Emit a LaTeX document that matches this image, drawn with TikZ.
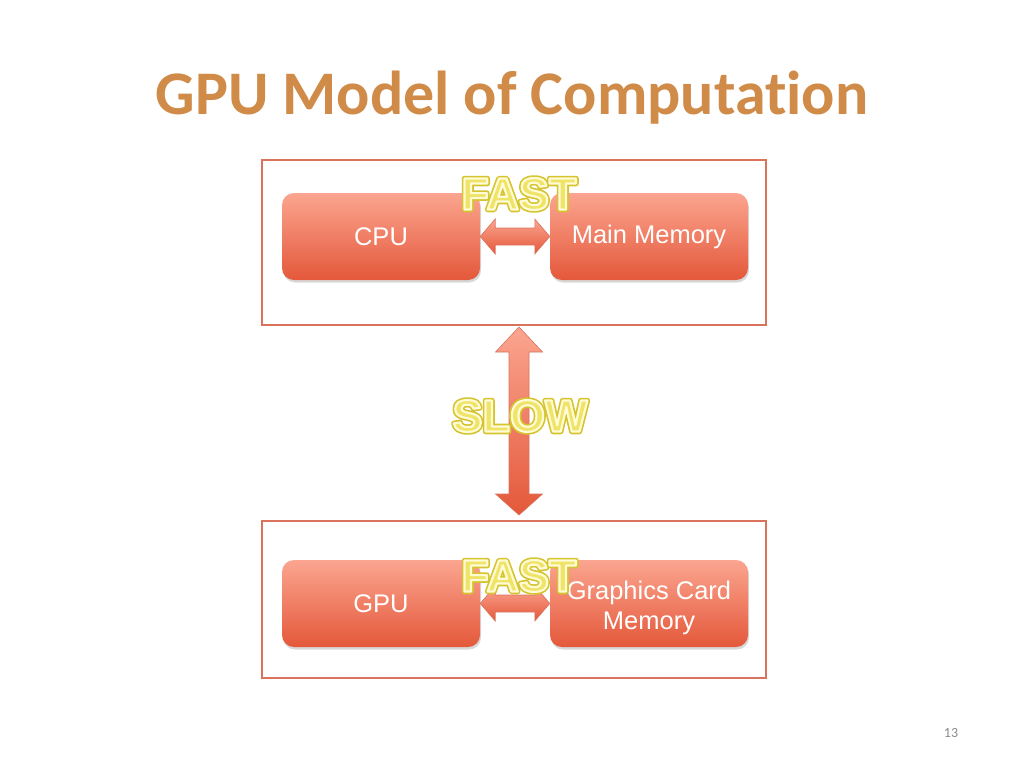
\documentclass[tikz,border=0pt]{standalone}
\usepackage{fontspec}
\setmainfont{Liberation Sans}
\newfontfamily\calib[Ligatures=NoCommon]{Carlito}
\usetikzlibrary{shadows,calc}
\definecolor{titlec}{HTML}{D08B48}
\definecolor{framec}{HTML}{D9735C}
\definecolor{boxtop}{HTML}{FBA590}
\definecolor{boxbot}{HTML}{E4583A}
\definecolor{glowout}{HTML}{D6C330}
\definecolor{glowcore}{HTML}{F0E468}
\definecolor{pagenum}{HTML}{8C8C8C}
\tikzset{
  frame/.style={draw=framec, line width=2pt},
  unit/.style={rounded corners=12pt, minimum width=198pt, minimum height=87pt,
    top color=boxtop, bottom color=boxbot, draw=none, text=white,
    font=\fontsize{25.5}{30}\selectfont, align=center,
    drop shadow={shadow xshift=1pt, shadow yshift=-2.5pt, opacity=0.3}},
  unittext/.style={yshift=-2pt},
  arr/.style={top color=boxtop, bottom color=boxbot, draw=framec, line width=0.6pt},
  glowtxt/.style={font=\fontsize{45}{45}\selectfont\bfseries, inner sep=0pt},
}
% outer layer: fill + thick dark stroke; top layer: core fill + light stroke
\newcommand{\outerglow}[1]{\special{pdf:code 2 Tr 5.5 w 1 J 1 j 0.84 0.765 0.19 RG}#1\special{pdf:code 0 Tr}}
\newcommand{\innerglow}[1]{\special{pdf:code 2 Tr 2.2 w 1 j 1 0.985 0.83 RG}#1\special{pdf:code 0 Tr}}
\newcommand{\glowlabel}[3]{%
  \node[glowtxt,text=glowout] at (#1) {\outerglow{#2}};
  \node[glowtxt,text=glowcore] (#3) at (#1) {\innerglow{#2}};
}
\begin{document}
\begin{tikzpicture}[x=1pt,y=-1pt]
\useasboundingbox[fill=white] (0,0) rectangle (1024,768);
% title
\node[font=\calib\bfseries\fontsize{62}{70}\selectfont, text=titlec] (title) at (512,98) {GPU Model of Computation};
% frames
\draw[frame] (262,160) rectangle (766,325);
\draw[frame] (262,521) rectangle (766,678);
\coordinate (topframe) at (519,325);
\coordinate (botframe) at (519,521);
% units
\node[unit] (cpu) at (381,236.5) {\raisebox{-2pt}{CPU}};
\node[unit] (mem) at (649,236.5) {\raisebox{-2pt}{Main Memory}};
\node[unit] (gpu) at (381,603.5) {\raisebox{-2pt}{GPU}};
\node[unit, text depth=0pt] (gmem) at (649,603.5) {\raisebox{-3pt}{Graphics Card}\\\raisebox{-3pt}{Memory}};
% horizontal arrows
\foreach \l/\r in {cpu/mem, gpu/gmem}{
  \path[arr] (\l.east) -- ($(\l.east)+(15,-17.5)$) -- ($(\l.east)+(15,-8.5)$)
     -- ($(\r.west)+(-15,-8.5)$) -- ($(\r.west)+(-15,-17.5)$) -- (\r.west)
     -- ($(\r.west)+(-15,17.5)$) -- ($(\r.west)+(-15,8.5)$)
     -- ($(\l.east)+(15,8.5)$) -- ($(\l.east)+(15,17.5)$) -- cycle;
}
% vertical arrow
\path[arr] ($(topframe)+(0,2)$) -- ($(topframe)+(23.5,27)$) -- ($(topframe)+(10,27)$)
   -- ($(botframe)+(10,-27)$) -- ($(botframe)+(23.5,-27)$) -- ($(botframe)+(0,-6)$)
   -- ($(botframe)+(-23.5,-27)$) -- ($(botframe)+(-10,-27)$)
   -- ($(topframe)+(-10,27)$) -- ($(topframe)+(-23.5,27)$) -- cycle;
% labels
\coordinate (fastTpos) at (519,194);
\coordinate (slowpos) at (520,416);
\coordinate (fastBpos) at (519,576);
\glowlabel{fastTpos}{FAST}{fastT}
\glowlabel{slowpos}{SLOW}{slow}
\glowlabel{fastBpos}{FAST}{fastB}
% page number
\node[font=\calib\fontsize{14}{16}\selectfont, text=pagenum] (pg) at (951,733) {13};
\end{tikzpicture}
\end{document}
